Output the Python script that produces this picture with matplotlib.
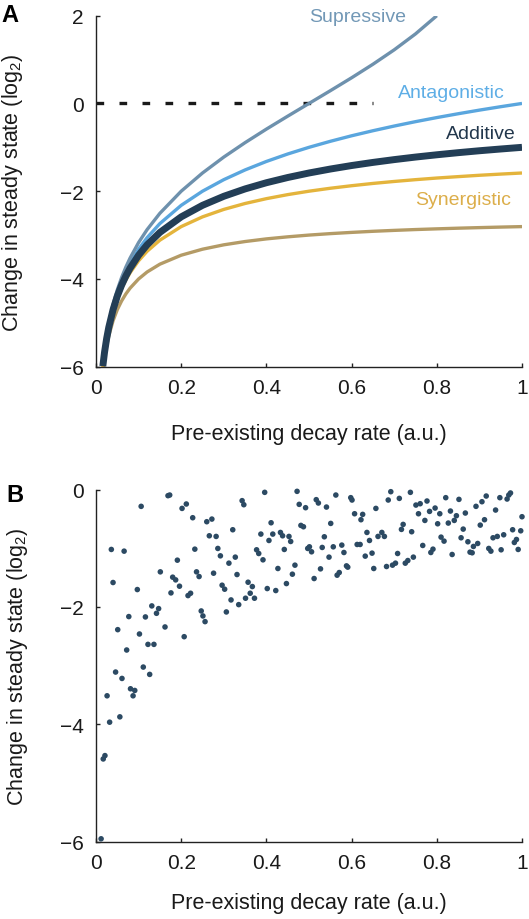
import matplotlib
matplotlib.use("Agg")
import matplotlib.pyplot as plt

plt.rcParams['font.family'] = ['Liberation Sans', 'DejaVu Sans']
plt.rcParams['mathtext.fontset'] = 'custom'
plt.rcParams['mathtext.rm'] = 'Liberation Sans'
plt.rcParams['mathtext.it'] = 'Liberation Sans'

# ---------------- Panel A data ----------------
decay_x = [0.016, 0.02, 0.025, 0.03, 0.04, 0.05, 0.06, 0.07, 0.08, 0.1, 0.12, 0.15,
           0.2, 0.25, 0.3, 0.35, 0.4, 0.45, 0.5, 0.55, 0.6, 0.65, 0.7, 0.75, 0.8,
           0.85, 0.9, 0.95, 1.0]
antagonistic = [-5.966, -5.644, -5.322, -5.059, -4.644, -4.322, -4.059, -3.837, -3.644,
                -3.322, -3.059, -2.737, -2.322, -2.0, -1.737, -1.515, -1.322, -1.152,
                -1.0, -0.863, -0.737, -0.622, -0.515, -0.415, -0.322, -0.235, -0.152,
                -0.074, 0.0]
additive = [-5.989, -5.673, -5.358, -5.102, -4.701, -4.392, -4.143, -3.934, -3.755,
            -3.459, -3.222, -2.939, -2.585, -2.322, -2.116, -1.948, -1.807, -1.688,
            -1.585, -1.495, -1.415, -1.344, -1.280, -1.222, -1.170, -1.122, -1.078,
            -1.038, -1.0]
synergistic = [-6.011, -5.701, -5.392, -5.143, -4.755, -4.459, -4.222, -4.026, -3.858,
               -3.585, -3.369, -3.116, -2.807, -2.585, -2.415, -2.280, -2.170, -2.078,
               -2.0, -1.933, -1.875, -1.823, -1.778, -1.737, -1.700, -1.668, -1.637,
               -1.610, -1.585]
strong_syn = [-6.098, -5.807, -5.524, -5.298, -4.954, -4.700, -4.503, -4.342, -4.210,
              -4.0, -3.841, -3.663, -3.459, -3.322, -3.222, -3.147, -3.087, -3.040,
              -3.0, -2.967, -2.939, -2.914, -2.893, -2.874, -2.858, -2.843, -2.830,
              -2.818, -2.807]
sup_x = [0.016, 0.02, 0.025, 0.03, 0.04, 0.05, 0.06, 0.07, 0.08, 0.1, 0.12, 0.15,
         0.2, 0.25, 0.3, 0.35, 0.4, 0.45, 0.5, 0.55, 0.6, 0.65, 0.7, 0.75, 0.8]
supressive = [-5.943, -5.615, -5.285, -5.015, -4.585, -4.248, -3.970, -3.732, -3.524,
              -3.170, -2.875, -2.503, -2.0, -1.585, -1.222, -0.893, -0.585, -0.290,
              0.0, 0.290, 0.585, 0.893, 1.222, 1.585, 2.0]
ref_x = [0.0, 0.65]
ref_y = [0.0, 0.0]

# ---------------- Panel B data ----------------
scatter_x = [
    0.169, 0.173, 0.106, 0.202, 0.212, 0.227, 0.260, 0.272, 0.321, 0.266, 0.282,
    0.036, 0.066, 0.232, 0.286, 0.292, 0.327, 0.312, 0.191, 0.151, 0.236, 0.242,
    0.276, 0.331, 0.040, 0.097, 0.180, 0.187, 0.196, 0.176, 0.216, 0.222, 0.296,
    0.302, 0.317, 0.335, 0.131, 0.147, 0.142, 0.077, 0.116, 0.247, 0.251, 0.256,
    0.306, 0.051, 0.162, 0.102, 0.207, 0.122, 0.136, 0.072, 0.046, 0.061, 0.111,
    0.126,
    0.026, 0.081, 0.091, 0.087, 0.032, 0.056, 0.017, 0.021, 0.012,
    0.343, 0.347, 0.396, 0.472, 0.477, 0.492, 0.517, 0.522, 0.541, 0.563, 0.598,
    0.601, 0.657, 0.607, 0.626, 0.622, 0.411, 0.387, 0.415, 0.406, 0.433, 0.438,
    0.453, 0.457, 0.481, 0.487, 0.551, 0.536, 0.636, 0.642, 0.662, 0.377, 0.382,
    0.392, 0.442, 0.497, 0.501, 0.506, 0.531, 0.557, 0.577, 0.582, 0.613, 0.620,
    0.547, 0.632, 0.648, 0.427, 0.467, 0.461, 0.527, 0.512, 0.588, 0.591, 0.566,
    0.571, 0.652, 0.357, 0.367, 0.362, 0.372, 0.351, 0.402, 0.422, 0.447,
    0.692, 0.686, 0.712, 0.738, 0.751, 0.761, 0.777, 0.757, 0.783, 0.796, 0.807,
    0.772, 0.821, 0.852, 0.832, 0.846, 0.841, 0.827, 0.802, 0.867, 0.892, 0.906,
    0.916, 0.948, 0.965, 0.969, 0.973, 0.938, 1.0, 0.912, 0.902, 0.862, 0.721,
    0.717, 0.741, 0.671, 0.677, 0.767, 0.810, 0.817, 0.857, 0.873, 0.886, 0.896,
    0.878, 0.883, 0.922, 0.927, 0.951, 0.932, 0.942, 0.957, 0.978, 0.997, 0.987,
    0.982, 0.991, 0.708, 0.791, 0.786, 0.836, 0.682, 0.696, 0.703, 0.726, 0.732,
    0.745,
]
scatter_y = [
    -0.102, -0.091, -0.284, -0.319, -0.244, -0.478, -0.546, -0.501, -0.683, -0.786, -0.797,
    -1.019, -1.048, -1.014, -1.002, -1.128, -1.150, -1.253, -1.202, -1.401, -1.401, -1.481,
    -1.424, -1.447, -1.583, -1.703, -1.492, -1.538, -1.646, -1.760, -1.806, -1.766, -1.629,
    -1.697, -1.880, -1.960, -1.982, -2.028, -2.108, -2.164, -2.170, -2.068, -2.153, -2.250,
    -2.085, -2.387, -2.341, -2.461, -2.507, -2.638, -2.638, -2.734, -3.110, -3.219, -3.025,
    -3.150,
    -3.515, -3.395, -3.424, -3.515, -3.965, -3.874, -4.592, -4.535, -5.954,
    -0.187, -0.256, -0.045, -0.028, -0.250, -0.307, -0.170, -0.227, -0.296, -0.091, -0.136,
    -0.176, -0.319, -0.410, -0.421, -0.512, -0.564, -0.757, -0.757, -0.866, -0.729, -0.786,
    -0.797, -0.883, -0.609, -0.632, -0.575, -0.803, -0.729, -0.866, -0.797, -1.025, -1.088,
    -1.196, -1.019, -1.002, -0.974, -1.059, -0.985, -0.974, -0.945, -1.071, -0.934, -0.934,
    -1.150, -1.133, -1.082, -1.344, -1.287, -1.441, -1.350, -1.515, -1.299, -1.321, -1.458,
    -1.413, -1.344, -1.578, -1.652, -1.766, -1.851, -1.851, -1.686, -1.720, -1.601,
    -0.034, -0.176, -0.148, -0.045, -0.262, -0.239, -0.193, -0.410, -0.370, -0.313, -0.410,
    -0.524, -0.136, -0.165, -0.364, -0.444, -0.524, -0.569, -0.581, -0.398, -0.284, -0.205,
    -0.108, -0.136, -0.159, -0.091, -0.056, -0.347, -0.461, -0.512, -0.604, -0.672, -0.592,
    -0.677, -0.717, -0.729, -0.797, -0.951, -0.809, -0.877, -0.820, -0.888, -0.968, -0.917,
    -1.065, -1.076, -1.002, -1.048, -1.025, -0.820, -0.797, -0.769, -0.683, -0.701, -0.849,
    -0.900, -1.019, -1.088, -1.014, -1.071, -1.105, -1.310, -1.287, -1.253, -1.253, -1.208,
    -1.150,
]

x_ticks = [0, 0.2, 0.4, 0.6, 0.8, 1.0]
x_ticklabels = ['0', '0.2', '0.4', '0.6', '0.8', '1']
ya_ticks = [-6, -4, -2, 0, 2]
yb_ticks = [-6, -4, -2, 0]

C_SUP = '#6e91ad'
C_ANT = '#5aa6de'
C_ADD = '#233e56'
C_SYN = '#e4b43c'
C_TAN = '#b49b66'
C_DOT = '#2c4a63'

fig = plt.figure(figsize=(5.29, 9.2), dpi=100)
W, H = 529.0, 920.0
axA = fig.add_axes([96 / W, 1 - 367.7 / H, 426 / W, 351 / H])
axB = fig.add_axes([96 / W, 1 - 842.5 / H, 426 / W, 351.8 / H])


def style(ax, ylab_x, xlab_y):
    for s in ['top', 'right']:
        ax.spines[s].set_visible(False)
    for s in ['left', 'bottom']:
        ax.spines[s].set_linewidth(1.0)
        ax.spines[s].set_color('#222222')
    ax.tick_params(direction='in', length=3, width=1.0, color='#222222',
                   labelsize=15, labelcolor='#1a1a1a')
    ax.tick_params(axis='y', pad=9)
    ax.tick_params(axis='x', pad=8)
    ax.set_xlim(0, 1)
    ax.set_xticks(x_ticks)
    ax.set_xticklabels(x_ticklabels)
    ax.set_xlabel('Pre-existing decay rate (a.u.)', fontsize=15.5, color='#1a1a1a',
                  va='center')
    ax.set_ylabel('Change in steady state (log$_2$)', fontsize=15.5, color='#1a1a1a',
                  va='center')
    ax.yaxis.set_label_coords(ylab_x, 0.5)
    ax.xaxis.set_label_coords(0.5, xlab_y)


# Panel A
axA.plot(ref_x, ref_y, color='#1a1a1a', lw=2.4, dashes=(2.3, 4.6))
axA.plot(decay_x, strong_syn, color=C_TAN, lw=2.4, solid_capstyle='butt')
axA.plot(decay_x, synergistic, color=C_SYN, lw=2.4, solid_capstyle='butt')
axA.plot(decay_x, antagonistic, color=C_ANT, lw=2.4, solid_capstyle='butt')
axA.plot(sup_x, supressive, color=C_SUP, lw=2.4, solid_capstyle='butt')
axA.plot(decay_x, additive, color=C_ADD, lw=5.0, solid_capstyle='butt')
axA.set_ylim(-6, 2)
axA.set_yticks(ya_ticks)
style(axA, -0.197, -0.19)

axA.text(0.615, 1.98, 'Supressive', color='#7298b6', fontsize=14, ha='center', va='center')
axA.text(0.833, 0.26, 'Antagonistic', color='#5eaee6', fontsize=14, ha='center', va='center')
axA.text(0.904, -0.695, 'Additive', color='#22374c', fontsize=14, ha='center', va='center')
axA.text(0.861, -2.19, 'Synergistic', color='#dcae4a', fontsize=14, ha='center', va='center')

# Panel B
axB.scatter(scatter_x, scatter_y, s=16, color=C_DOT, edgecolors='none', clip_on=False, zorder=3)
axB.set_ylim(-6, 0)
axB.set_yticks(yb_ticks)
style(axB, -0.185, -0.174)

fig.text(10 / W, 1 - 15 / H, 'A', fontsize=17, fontweight='bold', ha='center', va='center')
fig.text(15 / W, 1 - 496 / H, 'B', fontsize=17, fontweight='bold', ha='center', va='center')

fig.savefig('out.png', dpi=100)
